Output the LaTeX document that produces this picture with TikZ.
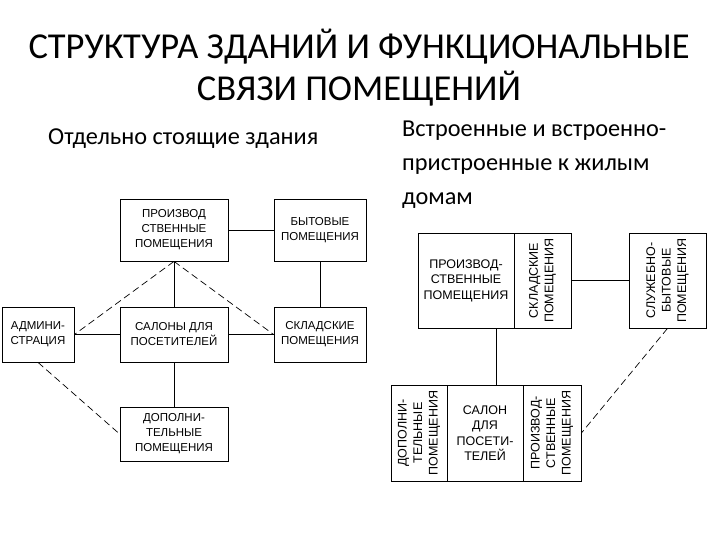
\documentclass[tikz,border=0pt]{standalone}
\usepackage{fontspec}
\setmainfont{Carlito}
\newfontfamily\boxfont{Liberation Sans}
\usetikzlibrary{positioning}

\tikzset{
  room/.style={draw, line width=0.8pt, align=center, inner sep=0pt,
    font=\boxfont\fontsize{11.5}{15}\selectfont},
  bigroom/.style={room, font=\boxfont\fontsize{12.5}{15.5}\selectfont},
  link/.style={line width=0.8pt},
  weak/.style={line width=0.7pt, dash pattern=on 7pt off 4pt}
}

\begin{document}
\begin{tikzpicture}[x=1pt,y=-1pt]
    \useasboundingbox (0,0) rectangle (720,540);

    % Titles
    \node[align=center, font=\fontsize{36.5}{42}\selectfont] (title) at (359,68)
        {СТРУКТУРА ЗДАНИЙ И ФУНКЦИОНАЛЬНЫЕ\\СВЯЗИ ПОМЕЩЕНИЙ};
    \node[anchor=base west, inner sep=0pt, font=\fontsize{24.3}{30}\selectfont] (free) at (48,145)
        {Отдельно стоящие здания};
    \node[anchor=base west, align=left, inner sep=0pt, font=\fontsize{24.3}{30}\selectfont] (built) at (402,205)
        {Встроенные и встроенно-\\[4pt]пристроенные к жилым\\[4pt]домам};

    % Left scheme: separate buildings
    \node[room, minimum width=108, minimum height=62] (prod) at (174,230) {ПРОИЗВОД\\СТВЕННЫЕ\\ПОМЕЩЕНИЯ};
    \node[room, minimum width=92, minimum height=62] (byt) at (320,230) {БЫТОВЫЕ\\ПОМЕЩЕНИЯ};
    \node[room, minimum width=72, minimum height=55] (adm) at (38,334.5) {АДМИНИ-\\СТРАЦИЯ};
    \node[room, minimum width=108, minimum height=55] (salon) at (174,334.5) {САЛОНЫ ДЛЯ\\ПОСЕТИТЕЛЕЙ};
    \node[room, minimum width=92, minimum height=55] (sklad) at (320,334.5) {СКЛАДСКИЕ\\ПОМЕЩЕНИЯ};
    \node[room, minimum width=108, minimum height=54] (dop) at (174,434) {ДОПОЛНИ-\\ТЕЛЬНЫЕ\\ПОМЕЩЕНИЯ};

    \draw[link] (prod) -- (byt);
    \draw[link] (byt) -- (sklad);
    \draw[link] (prod) -- (salon);
    \draw[link] (adm) -- (salon);
    \draw[link] (salon) -- (sklad);
    \draw[link] (salon) -- (dop);

    \draw[weak] (prod.south) -- (adm.east);
    \draw[weak] (prod.south) -- (sklad.west);
    \draw[weak] (adm.south) -- (dop.west);

    % Right scheme: built into houses
    \node[bigroom, minimum width=96, minimum height=95] (rprod) at (466,280.5) {ПРОИЗВОД-\\СТВЕННЫЕ\\ПОМЕЩЕНИЯ};
    \node[bigroom, minimum width=57, minimum height=95] (rsklad) at (542.5,280.5)
        {\rotatebox{90}{\begin{tabular}{@{}c@{}}СКЛАДСКИЕ\\ПОМЕЩЕНИЯ\end{tabular}}};
    \node[bigroom, minimum width=77, minimum height=95] (rsluzh) at (667.5,280.5)
        {\rotatebox{90}{\begin{tabular}{@{}c@{}}СЛУЖЕБНО-\\БЫТОВЫЕ\\ПОМЕЩЕНИЯ\end{tabular}}};
    \node[bigroom, minimum width=56, minimum height=96] (rdop) at (419,433)
        {\rotatebox{90}{\begin{tabular}{@{}c@{}}ДОПОЛНИ-\\ТЕЛЬНЫЕ\\ПОМЕЩЕНИЯ\end{tabular}}};
    \node[bigroom, minimum width=76, minimum height=96] (rsalon) at (485,433) {САЛОН\\ДЛЯ\\ПОСЕТИ-\\ТЕЛЕЙ};
    \node[bigroom, minimum width=58, minimum height=96] (rprod2) at (552,433)
        {\rotatebox{90}{\begin{tabular}{@{}c@{}}ПРОИЗВОД-\\СТВЕННЫЕ\\ПОМЕЩЕНИЯ\end{tabular}}};

    \draw[link] (rsklad) -- (rsluzh);
    \draw[link] ([xshift=11]rsalon.north) -- ([xshift=11]rsalon.north |- rprod.south);
    \draw[weak] (rsluzh.south) -- (rprod2.east);
\end{tikzpicture}
\end{document}
